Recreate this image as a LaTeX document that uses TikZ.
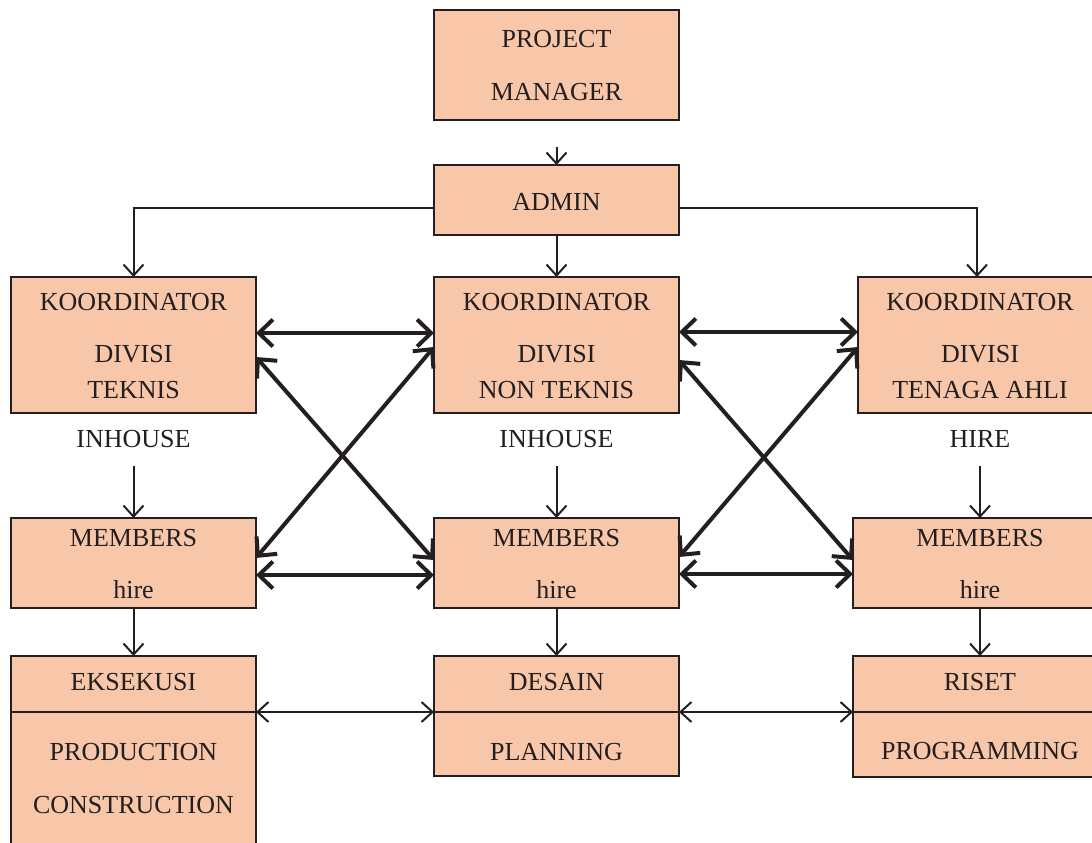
\documentclass[tikz,border=0pt]{standalone}
\usepackage{fontspec}
\setmainfont{Liberation Serif}
\usetikzlibrary{arrows.meta}
\definecolor{boxfill}{RGB}{248,198,169}
\definecolor{ink}{RGB}{35,31,32}
\tikzset{
  box/.style={draw=ink, fill=boxfill, line width=2.5pt, inner sep=0pt, outer sep=0pt},
  txt/.style={anchor=base, inner sep=0pt, text=ink, font=\fontsize{26}{30}\selectfont},
  thinarrow/.style={draw=ink, line width=2pt, -{Straight Barb[length=11pt,width=20pt]}},
  thinboth/.style={draw=ink, line width=2pt, {Straight Barb[length=11pt,width=20pt]}-{Straight Barb[length=11pt,width=20pt]}},
  thickboth/.style={draw=ink, line width=4pt, {Straight Barb[length=14pt,width=27pt]}-{Straight Barb[length=14pt,width=27pt]}},
  divider/.style={draw=ink, line width=2.5pt}
}
\begin{document}
\begin{tikzpicture}[x=1pt,y=-1pt]
\useasboundingbox (0,0) rectangle (1092,843);
\clip (0,0) rectangle (1092,843);
% boxes
\node[box, minimum width=245pt, minimum height=110pt] (pm) at (556.5,65) {};
\node[box, minimum width=245pt, minimum height=70pt] (ad) at (556.5,200) {};
\node[box, minimum width=245pt, minimum height=136pt] (kl) at (133.5,345) {};
\node[box, minimum width=245pt, minimum height=136pt] (kc) at (556.5,345) {};
\node[box, minimum width=244pt, minimum height=136pt] (kr) at (980,345) {};
\node[box, minimum width=245pt, minimum height=90pt] (ml) at (133.5,563) {};
\node[box, minimum width=245pt, minimum height=90pt] (mc) at (556.5,563) {};
\node[box, minimum width=254pt, minimum height=90pt] (mr) at (980,563) {};
\node[box, minimum width=245pt, minimum height=214pt] (bl) at (133.5,763) {};
\node[box, minimum width=245pt, minimum height=120pt] (bc) at (556.5,716) {};
\node[box, minimum width=254pt, minimum height=121pt] (br) at (980,716.5) {};
% dividers
\draw[divider] ([yshift=51pt]bl.west) -- ([yshift=51pt]bl.east);
\draw[divider] ([yshift=4pt]bc.west) -- ([yshift=4pt]bc.east);
\draw[divider] ([yshift=4.5pt]br.west) -- ([yshift=4.5pt]br.east);
% texts
\node[txt] (t1) at (556.5,48) {PROJECT};
\node[txt] (t2) at (556.5,100.5) {MANAGER};
\node[txt] (t3) at (556.5,210) {ADMIN};
\node[txt] (t4) at (133.5,310) {KOORDINATOR};
\node[txt] (t5) at (133.5,362.5) {DIVISI};
\node[txt] (t6) at (133.5,398) {TEKNIS};
\node[txt] (t7) at (556.5,310) {KOORDINATOR};
\node[txt] (t8) at (556.5,362.5) {DIVISI};
\node[txt] (t9) at (556.5,398) {NON TEKNIS};
\node[txt] (t10) at (980,310) {KOORDINATOR};
\node[txt] (t11) at (980,362.5) {DIVISI};
\node[txt] (t12) at (980,398) {TENAGA AHLI};
\node[txt] (il) at (133.5,447.5) {INHOUSE};
\node[txt] (ic) at (556.5,447.5) {INHOUSE};
\node[txt] (ir) at (980,447.5) {HIRE};
\node[txt] (t13) at (133.5,546) {MEMBERS};
\node[txt] (t14) at (133.5,598) {hire};
\node[txt] (t15) at (556.5,546) {MEMBERS};
\node[txt] (t16) at (556.5,598) {hire};
\node[txt] (t17) at (980,546) {MEMBERS};
\node[txt] (t18) at (980,598) {hire};
\node[txt] (t19) at (133.5,690) {EKSEKUSI};
\node[txt] (t20) at (133.5,760) {PRODUCTION};
\node[txt] (t21) at (133.5,813) {CONSTRUCTION};
\node[txt] (t22) at (556.5,690) {DESAIN};
\node[txt] (t23) at (556.5,760) {PLANNING};
\node[txt] (t24) at (980,690) {RISET};
\node[txt] (t25) at (980,759) {PROGRAMMING};
% thin connectors
\draw[thinarrow] ([yshift=-27pt]pm.south) -- (ad.north);
\draw[thinarrow] ([yshift=-8pt]ad.west) -| (kl.north);
\draw[thinarrow] ([yshift=-8pt]ad.east) -| ([xshift=-3pt]kr.north);
\draw[thinarrow] (ad.south) -- (kc.north);
\draw[thinarrow] ([yshift=-53pt]kl.south) -- (ml.north);
\draw[thinarrow] ([yshift=-53pt]kc.south) -- (mc.north);
\draw[thinarrow] ([yshift=-53pt]kr.south) -- (mr.north);
\draw[thinarrow] (ml.south) -- (bl.north);
\draw[thinarrow] (mc.south) -- (bc.north);
\draw[thinarrow] (mr.south) -- (br.north);
\draw[thinboth] ([yshift=51pt]bl.east) -- ([yshift=4pt]bc.west);
\draw[thinboth] ([yshift=4pt]bc.east) -- ([yshift=4.5pt]br.west);
% thick connectors left
\draw[thickboth] ([yshift=12pt]kl.east) -- ([yshift=12pt]kc.west);
\draw[thickboth] ([yshift=-12pt]kl.east) -- ([yshift=3pt]mc.west);
\draw[thickboth] ([yshift=-2pt]kc.west) -- ([yshift=5pt]ml.east);
\draw[thickboth] ([yshift=-12pt]ml.east) -- ([yshift=-12pt]mc.west);
% thick connectors right
\draw[thickboth] ([yshift=13pt]kc.east) -- ([yshift=13pt]kr.west);
\draw[thickboth] ([yshift=-15pt]kc.east) -- ([yshift=3pt]mr.west);
\draw[thickboth] ([yshift=-2pt]kr.west) -- ([yshift=6pt]mc.east);
\draw[thickboth] ([yshift=-11pt]mc.east) -- ([yshift=-11pt]mr.west);
\end{tikzpicture}
\end{document}
